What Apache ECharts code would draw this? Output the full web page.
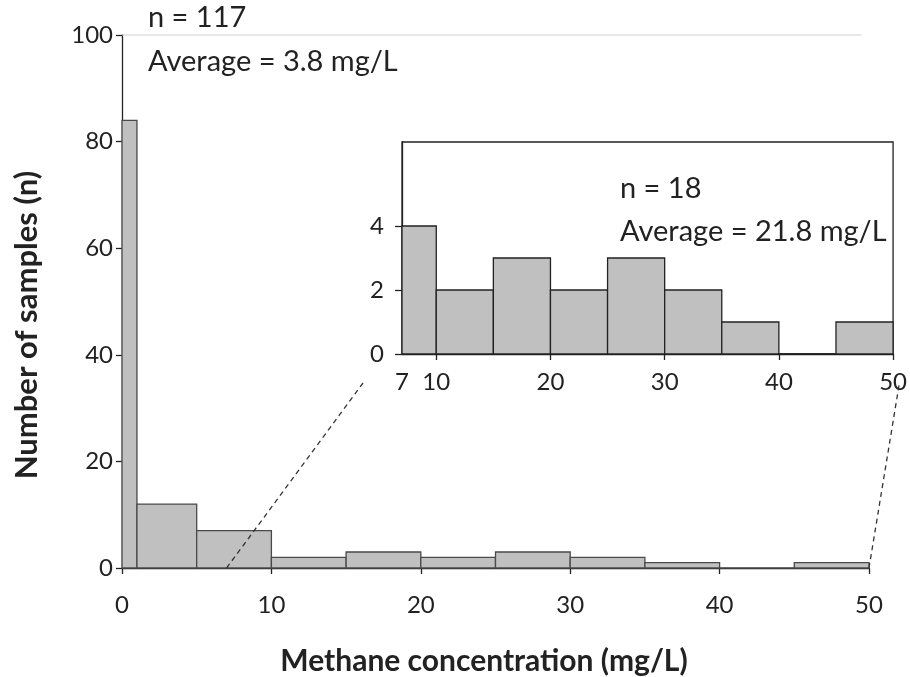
<!DOCTYPE html>
<html>
<head>
<meta charset="utf-8">
<script src="https://cdn.jsdelivr.net/npm/echarts@6/dist/echarts.min.js"></script>
<style>
  html, body { margin: 0; padding: 0; background: #fff; }
  #main { width: 910px; height: 677px; }
</style>
</head>
<body>
<div id="main"></div>
<script>
// bin edges and counts, main histogram
var mainEdges = [0, 1, 5, 10, 15, 20, 25, 30, 35, 40, 45, 50]
var mainCounts = [84, 12, 7, 2, 3, 2, 3, 2, 1, 0, 1]
// inset histogram (>7 mg/L)
var insetEdges = [7, 10, 15, 20, 25, 30, 35, 40, 45, 50]
var insetCounts = [4, 2, 3, 2, 3, 2, 1, 0, 1]
var insetXLabels = [7, 10, 20, 30, 40, 50]
var insetXTicks = [10, 20, 30, 40, 50]
var insetYTicks = [0, 2, 4]

var FONT = 'Lato'
var TXT = '#222'

function toBins (edges, counts) {
  var out = []
  counts.forEach(function (c, i) {
    out.push([edges[i], edges[i + 1], c])
  })
  return out
}

function histItem (stroke) {
  return function (params, api) {
    var p0 = api.coord([api.value(0), api.value(2)])
    var p1 = api.coord([api.value(1), 0])
    return {
      type: 'rect',
      shape: { x: p0[0], y: p0[1], width: p1[0] - p0[0], height: p1[1] - p0[1] },
      style: { fill: '#c0c0c0', stroke: stroke, lineWidth: 1.3 }
    }
  }
}

var chart = echarts.init(document.getElementById('main'))

var labelStyle = { color: TXT, fontFamily: FONT, fontSize: 24 }
var axisLine = { lineStyle: { color: '#222', width: 1.3 } }

chart.setOption({
  animation: false,
  grid: [
    { left: 122, top: 35, right: 41, bottom: 109 },
    { left: 402, top: 142, width: 498, height: 212, show: true, borderColor: '#222', borderWidth: 1.3, backgroundColor: '#fff', z: 5 }
  ],
  xAxis: [
    {
      type: 'value', gridIndex: 0, min: 0, max: 50, interval: 10,
      axisLine: axisLine,
      axisTick: { show: true, length: 6, lineStyle: { color: '#222', width: 1.3 } },
      axisLabel: Object.assign({ margin: 25 }, labelStyle),
      splitLine: { show: false }
    },
    {
      type: 'value', gridIndex: 1, min: 7, max: 50, z: 6,
      axisLine: axisLine,
      axisTick: { show: true, length: 6, customValues: insetXTicks, lineStyle: { color: '#222', width: 1.3 } },
      axisLabel: Object.assign({ margin: 16, customValues: insetXLabels, showMinLabel: true, showMaxLabel: true }, labelStyle),
      splitLine: { show: false }
    }
  ],
  yAxis: [
    {
      type: 'value', gridIndex: 0, min: 0, max: 100, interval: 20,
      axisLine: { show: true, lineStyle: { color: '#222', width: 1.3 } },
      axisTick: { show: true, length: 6, lineStyle: { color: '#222', width: 1.3 } },
      axisLabel: Object.assign({ margin: 9 }, labelStyle),
      splitLine: { show: false }
    },
    {
      type: 'value', gridIndex: 1, min: 0, max: 6.625, z: 6,
      axisLine: { show: true, lineStyle: { color: '#222', width: 1.3 } },
      axisTick: { show: true, length: 7, customValues: insetYTicks, lineStyle: { color: '#222', width: 1.3 } },
      axisLabel: Object.assign({ margin: 18, customValues: insetYTicks }, labelStyle),
      splitLine: { show: false }
    }
  ],
  series: [
    {
      type: 'custom', xAxisIndex: 0, yAxisIndex: 0,
      renderItem: histItem('#4a4a4a'),
      encode: { x: [0, 1], y: 2 },
      data: toBins(mainEdges, mainCounts)
    },
    {
      type: 'custom', xAxisIndex: 1, yAxisIndex: 1, z: 7,
      renderItem: histItem('#222'),
      encode: { x: [0, 1], y: 2 },
      data: toBins(insetEdges, insetCounts)
    }
  ]
})

// connector lines, top gridline and annotations placed from the axes
var a0 = chart.convertToPixel({ gridIndex: 0 }, [insetEdges[0], 0])
var a1 = chart.convertToPixel({ gridIndex: 0 }, [50, 0])
var b0 = chart.convertToPixel({ gridIndex: 1 }, [insetEdges[0], 0])
var b1 = chart.convertToPixel({ gridIndex: 1 }, [50, 0])
var g0 = chart.convertToPixel({ gridIndex: 0 }, [0, 100])
var g1 = chart.convertToPixel({ gridIndex: 0 }, [49.5, 100])
var dash = { stroke: '#333', lineWidth: 1.3, lineDash: [5, 4] }
var annoStyle = { fill: TXT, font: '29px ' + FONT }

chart.setOption({
  graphic: [
    { type: 'line', z: 1, shape: { x1: g0[0], y1: g0[1], x2: g1[0], y2: g1[1] }, style: { stroke: '#d0d0d0', lineWidth: 1 } },
    { type: 'line', z: 100, shape: { x1: a0[0], y1: a0[1], x2: b0[0] - 39, y2: b0[1] + 29 }, style: dash },
    { type: 'line', z: 100, shape: { x1: a1[0], y1: a1[1], x2: b1[0] + 6, y2: b1[1] + 31 }, style: dash },
    { type: 'text', x: 148, y: 18, style: Object.assign({ text: 'n = 117', textVerticalAlign: 'middle' }, annoStyle) },
    { type: 'text', x: 148, y: 62, style: Object.assign({ text: 'Average = 3.8 mg/L', textVerticalAlign: 'middle' }, annoStyle) },
    { type: 'text', x: 620, y: 189, z: 10, style: Object.assign({ text: 'n = 18', textVerticalAlign: 'middle' }, annoStyle) },
    { type: 'text', x: 620, y: 232, z: 10, style: Object.assign({ text: 'Average = 21.8 mg/L', textVerticalAlign: 'middle' }, annoStyle) },
    { type: 'text', x: 484, y: 661, style: { text: 'Methane concentration (mg/L)', textAlign: 'center', textVerticalAlign: 'middle', fill: TXT, font: 'bold 30px ' + FONT } },
    { type: 'text', x: 27, y: 325, rotation: Math.PI / 2, style: { text: 'Number of samples (n)', textAlign: 'center', textVerticalAlign: 'middle', fill: TXT, font: 'bold 31px ' + FONT } }
  ]
})
</script>
</body>
</html>
